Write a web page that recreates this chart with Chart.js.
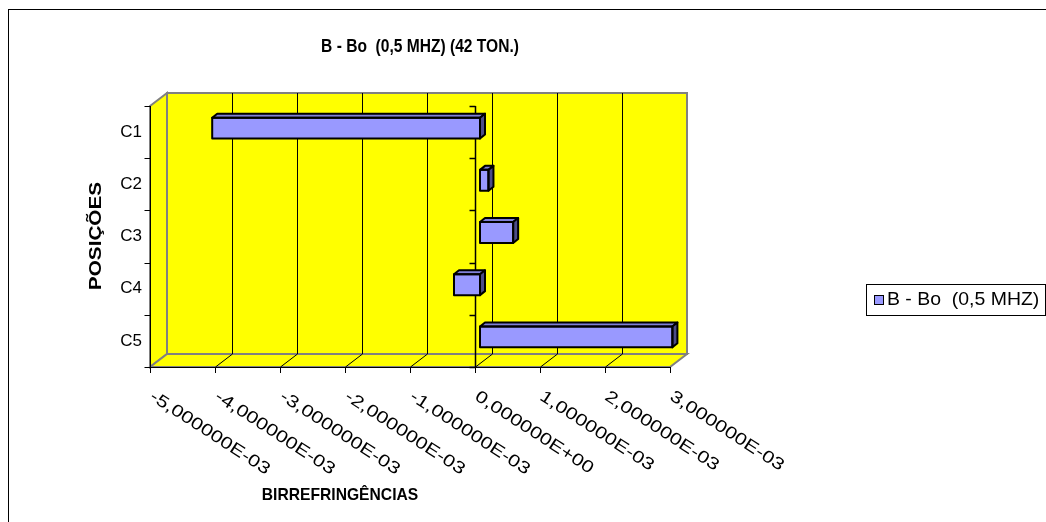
<!DOCTYPE html>
<html>
<head>
<meta charset="utf-8">
<script src="https://cdn.jsdelivr.net/npm/chart.js@4/dist/chart.umd.min.js"></script>
<style>
    body { margin: 0; background: #fff; }
    #wrap { width: 1046px; height: 522px; }
</style>
</head>
<body>
<div id="wrap"><canvas id="grafico" width="1046" height="522"></canvas></div>
<script>
// Datos del gráfico
const categorias = ['C1', 'C2', 'C3', 'C4', 'C5'];
const birrefringencias = [-4.12e-3, 0.13e-3, 0.51e-3, -0.40e-3, 2.96e-3];
const valoresEje = [-5e-3, -4e-3, -3e-3, -2e-3, -1e-3, 0, 1e-3, 2e-3, 3e-3];
const etiquetasEje = ['-5,000000E-03', '-4,000000E-03', '-3,000000E-03', '-2,000000E-03',
    '-1,000000E-03', '0,000000E+00', '1,000000E-03', '2,000000E-03', '3,000000E-03'];

const titulo = 'B - Bo  (0,5 MHZ) (42 TON.)';
const nombreSerie = 'B - Bo  (0,5 MHZ)';

// Desplazamientos del efecto 3D (plano de barras = chartArea)
const FRENTE = { dx: -5, dy: 4 };
const FONDO = { dx: 12, dy: -9 };
const PROF = { dx: 5, dy: -4 };   // profundidad de cada barra

const AMARILLO = '#FFFF00';
const GRIS = '#808080';
const FUENTE = '"Liberation Sans", Arial, sans-serif';

function planos(chart) {
    const a = chart.chartArea;
    return {
        fL: a.left + FRENTE.dx, fR: a.right + FRENTE.dx, fT: a.top + FRENTE.dy, fB: a.bottom + FRENTE.dy,
        bL: a.left + FONDO.dx, bR: a.right + FONDO.dx, bT: a.top + FONDO.dy, bB: a.bottom + FONDO.dy
    };
}

function poligono(ctx, pts, fill, stroke, width) {
    ctx.beginPath();
    ctx.moveTo(pts[0][0], pts[0][1]);
    for (let i = 1; i < pts.length; i++) ctx.lineTo(pts[i][0], pts[i][1]);
    ctx.closePath();
    if (fill) { ctx.fillStyle = fill; ctx.fill(); }
    if (stroke) { ctx.strokeStyle = stroke; ctx.lineWidth = width || 1; ctx.stroke(); }
}

function linea(ctx, x1, y1, x2, y2, color, w) {
    ctx.beginPath();
    ctx.moveTo(x1, y1);
    ctx.lineTo(x2, y2);
    ctx.strokeStyle = color;
    ctx.lineWidth = w || 1;
    ctx.stroke();
}

// Texto con rotación y escala horizontal (imitar la fuente del original)
function texto(ctx, s, x, y, font, sx, rot, align, base) {
    ctx.save();
    ctx.translate(x, y);
    if (rot) ctx.rotate(rot * Math.PI / 180);
    ctx.scale(sx || 1, 1);
    ctx.font = font;
    ctx.textAlign = align || 'left';
    ctx.textBaseline = base || 'middle';
    ctx.fillText(s, 0, 0);
    ctx.restore();
}

// Paredes, piso, rejilla y ejes
const fondo3d = {
    id: 'fondo3d',
    beforeDatasetsDraw(chart) {
        const ctx = chart.ctx;
        const xs = chart.scales.x;
        const ys = chart.scales.y;
        const p = planos(chart);
        const ox = FONDO.dx - FRENTE.dx;

        ctx.save();
        // pared lateral
        poligono(ctx, [[p.fL, p.fT], [p.bL, p.bT], [p.bL, p.bB], [p.fL, p.fB]], AMARILLO, GRIS, 2);
        // pared de fondo
        poligono(ctx, [[p.bL, p.bT], [p.bR, p.bT], [p.bR, p.bB], [p.bL, p.bB]], AMARILLO, GRIS, 2);
        // piso
        poligono(ctx, [[p.fL, p.fB], [p.bL, p.bB], [p.bR, p.bB], [p.fR, p.fB]], AMARILLO, GRIS, 2);

        // rejilla vertical en el fondo y líneas del piso
        valoresEje.forEach((v, i) => {
            const px = Math.round(xs.getPixelForValue(v) + FRENTE.dx) + 0.5;
            if (i > 0 && i < valoresEje.length - 1) {
                linea(ctx, px + ox, p.bT, px + ox, p.bB, '#000', 1);
                linea(ctx, px, p.fB, px + ox, p.bB, '#000', 1);
            }
            // marcas del eje X
            linea(ctx, px, p.fB, px, p.fB + 6, '#000', 1);
        });

        // eje X frontal
        linea(ctx, p.fL, p.fB + 0.5, p.fR, p.fB + 0.5, '#000', 1);

        // eje de categorías (izquierda) y eje en cero
        const x0 = Math.round(xs.getPixelForValue(0) + FRENTE.dx) + 0.5;
        const xl = Math.round(p.fL) + 0.5;
        linea(ctx, xl, p.fT, xl, p.fB + 6, '#000', 1);
        linea(ctx, x0, p.fT, x0, p.fB, '#000', 1.5);
        const paso = ys.getPixelForValue(1) - ys.getPixelForValue(0);
        for (let i = 0; i <= categorias.length; i++) {
            const yy = Math.round(ys.getPixelForValue(0) - paso / 2 + i * paso + FRENTE.dy) + 0.5;
            linea(ctx, xl - 6, yy, xl, yy, '#000', 1);
            linea(ctx, x0 - 6, yy, x0, yy, '#000', 1.5);
        }
        ctx.restore();
    },
    afterDatasetsDraw(chart) {
        // caras superior y lateral de las barras
        const ctx = chart.ctx;
        const meta = chart.getDatasetMeta(0);
        ctx.save();
        ctx.lineJoin = 'round';
        meta.data.forEach(bar => {
            const l = Math.min(bar.x, bar.base);
            const r = Math.max(bar.x, bar.base);
            const t = bar.y - bar.height / 2;
            const b = bar.y + bar.height / 2;
            poligono(ctx, [[l, t], [l + PROF.dx, t + PROF.dy], [r + PROF.dx, t + PROF.dy], [r, t]], '#8080D8', '#000', 2);
            poligono(ctx, [[r, t], [r + PROF.dx, t + PROF.dy], [r + PROF.dx, b + PROF.dy], [r, b]], '#4C4C88', '#000', 2);
            ctx.strokeStyle = '#000';
            ctx.lineWidth = 2;
            ctx.strokeRect(l, t, r - l, b - t);
        });
        ctx.restore();
    },
    afterDraw(chart) {
        const ctx = chart.ctx;
        const xs = chart.scales.x;
        const ys = chart.scales.y;
        const p = planos(chart);
        ctx.save();
        ctx.fillStyle = '#000';

        // título
        texto(ctx, titulo, 420, 47, 'bold 18px ' + FUENTE, 0.865, 0, 'center');

        // etiquetas de categorías
        categorias.forEach((c, i) => {
            texto(ctx, c, 142, ys.getPixelForValue(i) + FRENTE.dy, '17px ' + FUENTE, 1, 0, 'right');
        });

        // etiquetas del eje X (rotadas)
        valoresEje.forEach((v, i) => {
            const px = xs.getPixelForValue(v) + FRENTE.dx;
            texto(ctx, etiquetasEje[i], px + 6, p.fB + 21, '17px ' + FUENTE, 1.24, 33, 'left', 'top');
        });

        // títulos de ejes
        texto(ctx, 'BIRREFRINGÊNCIAS', 340, 495, 'bold 17px ' + FUENTE, 0.92, 0, 'center');
        texto(ctx, 'POSIÇÕES', 96, 236, 'bold 17px ' + FUENTE, 1.22, -90, 'center');

        // leyenda
        ctx.strokeStyle = '#000';
        ctx.lineWidth = 1;
        ctx.strokeRect(866.5, 284.5, 179, 31);
        ctx.fillStyle = '#9999FF';
        ctx.fillRect(874, 295, 9, 9);
        ctx.strokeRect(874.5, 295.5, 9, 9);
        ctx.fillStyle = '#000';
        texto(ctx, nombreSerie, 887, 300, '18px ' + FUENTE, 1.08, 0, 'left');

        // borde exterior
        ctx.strokeRect(8.5, 9.5, 1100, 600);
        ctx.restore();
    }
};

new Chart(document.getElementById('grafico'), {
    type: 'bar',
    data: {
        labels: categorias,
        datasets: [{
            label: nombreSerie,
            data: birrefringencias,
            backgroundColor: '#9999FF',
            borderColor: '#000',
            borderWidth: 0,
            categoryPercentage: 1,
            barPercentage: 0.4
        }]
    },
    options: {
        indexAxis: 'y',
        responsive: false,
        animation: false,
        layout: { padding: { left: 155, right: 371, top: 102, bottom: 159 } },
        plugins: {
            legend: { display: false },
            title: { display: false },
            tooltip: { enabled: false }
        },
        scales: {
            x: { display: false, min: -5e-3, max: 3e-3 },
            y: { display: false, offset: true }
        }
    },
    plugins: [fondo3d]
});
</script>
</body>
</html>
